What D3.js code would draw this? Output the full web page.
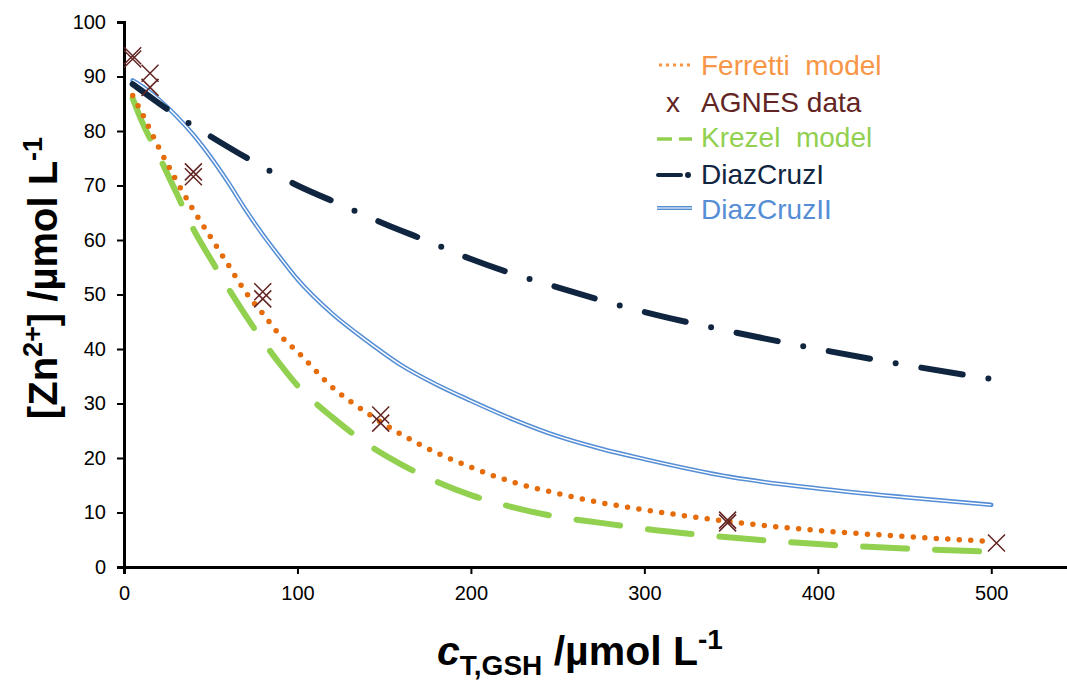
<!DOCTYPE html>
<html>
<head>
<meta charset="utf-8">
<script src="https://cdn.jsdelivr.net/npm/d3@7"></script>
<style>
  body { margin: 0; background: #fff; }
  svg { display: block; font-family: "Liberation Sans", Arial, sans-serif; }
</style>
</head>
<body>
<div id="chart"></div>
<script>
// data
var ferrettiX = [5, 10, 20, 30, 40, 50, 60, 70, 80, 90, 100, 120, 140, 160, 180, 200, 225, 250, 275, 300, 350, 400, 450, 500];
var ferrettiY = [86.5, 83.5, 77, 71, 65.5, 60.5, 55.5, 50.5, 46.5, 42.5, 39.5, 33, 28.3, 24.3, 21, 18.3, 15.5, 13.5, 11.8, 10.5, 8.3, 6.7, 5.6, 4.7];

var krezelX = [5, 10, 20, 30, 40, 50, 60, 70, 80, 90, 100, 110, 120, 140, 160, 180, 200, 225, 250, 275, 300, 350, 400, 450, 500];
var krezelY = [86, 82, 75.5, 68.8, 62, 56.5, 51.2, 46.2, 41.5, 37.2, 33.3, 30.2, 27.5, 22.6, 18.8, 15.7, 13.2, 10.9, 9.2, 8.1, 7.0, 5.4, 4.2, 3.4, 2.8];

var diazIX = [5, 25, 50, 75, 100, 125, 150, 175, 200, 250, 300, 350, 400, 450, 500];
var diazIY = [88.6, 84, 79, 74.3, 70, 66.5, 63, 59.8, 56.5, 51.3, 46.8, 43.2, 40, 37.1, 34.5];

var diazIIX = [5, 10, 20, 30, 40, 50, 60, 70, 80, 90, 100, 120, 140, 160, 180, 200, 225, 250, 275, 300, 350, 400, 450, 500];
var diazIIY = [89.3, 88.3, 85.8, 82.8, 79.3, 75.2, 70.6, 65.6, 61, 56.8, 52.8, 46.5, 41.5, 37, 33.5, 30.5, 27, 24, 21.7, 19.8, 16.5, 14.4, 12.8, 11.4];

var agnesX = [5, 5, 15, 15, 40, 40, 80, 80, 148, 148, 348, 348, 503];
var agnesY = [93.8, 93.2, 90.6, 88, 72.5, 71.6, 50.5, 49.2, 27.9, 26.4, 8.6, 8.1, 4.4];

var xTicks = [0, 100, 200, 300, 400, 500];
var yTicks = [0, 10, 20, 30, 40, 50, 60, 70, 80, 90, 100];

var W = 1067, H = 682;

var svg = d3.select('#chart').append('svg')
  .attr('width', W)
  .attr('height', H);

var x = d3.scaleLinear().domain([0, 550]).range([124, 1078]);
var y = d3.scaleLinear().domain([0, 100]).range([567, 22]);

// axes
var xAxis = svg.append('g')
  .attr('transform', 'translate(0,' + y(0) + ')')
  .call(d3.axisBottom(x).tickValues(xTicks).tickSizeOuter(0).tickSize(7).tickPadding(12));
var yAxis = svg.append('g')
  .attr('transform', 'translate(' + x(0) + ',0)')
  .call(d3.axisLeft(y).tickValues(yTicks).tickSizeOuter(0).tickSize(7).tickPadding(11));

[xAxis, yAxis].forEach(function(a){
  a.select('.domain').attr('stroke', '#000').attr('stroke-width', 3);
  a.selectAll('.tick line').attr('stroke', '#000').attr('stroke-width', 2);
  a.selectAll('.tick text')
    .attr('fill', '#000')
    .style('font-size', '20px')
    .style('font-family', '"Liberation Sans", Arial, sans-serif');
});

// line generator
function pts(xs, ys){
  return xs.map(function(d, i){ return [d, ys[i]]; });
}
var line = d3.line()
  .x(function(d){ return x(d[0]); })
  .y(function(d){ return y(d[1]); })
  .curve(d3.curveMonotoneX);

// DiazCruzII (double line)
svg.append('path')
  .attr('d', line(pts(diazIIX, diazIIY)))
  .attr('fill', 'none')
  .attr('stroke', '#558ed5')
  .attr('stroke-width', 4.5)
  .attr('stroke-linecap', 'round');
svg.append('path')
  .attr('d', line(pts(diazIIX, diazIIY)))
  .attr('fill', 'none')
  .attr('stroke', '#fff')
  .attr('stroke-width', 1.4);

// DiazCruzI (dash dot)
svg.append('path')
  .attr('d', line(pts(diazIX, diazIY)))
  .attr('fill', 'none')
  .attr('stroke', '#10253f')
  .attr('stroke-width', 6)
  .attr('stroke-linecap', 'round')
  .attr('stroke-dasharray', '42 26 0 26');

// Krezel (long dash)
svg.append('path')
  .attr('d', line(pts(krezelX, krezelY)))
  .attr('fill', 'none')
  .attr('stroke', '#92d050')
  .attr('stroke-width', 6)
  .attr('stroke-linecap', 'round')
  .attr('stroke-dasharray', '44 28');

// Ferretti (round dots)
svg.append('path')
  .attr('d', line(pts(ferrettiX, ferrettiY)))
  .attr('fill', 'none')
  .attr('stroke', '#e46c0a')
  .attr('stroke-width', 5.5)
  .attr('stroke-linecap', 'round')
  .attr('stroke-dasharray', '0 11.5');

// AGNES markers
var m = 8.5;
svg.append('g').selectAll('path')
  .data(pts(agnesX, agnesY))
  .enter()
  .append('path')
  .attr('transform', function(d){ return 'translate(' + x(d[0]) + ',' + y(d[1]) + ')'; })
  .attr('d', 'M' + (-m) + ',' + (-m) + 'L' + m + ',' + m + 'M' + (-m) + ',' + m + 'L' + m + ',' + (-m))
  .attr('fill', 'none')
  .attr('stroke', '#632523')
  .attr('stroke-width', 1.5);

// legend
var lg = svg.append('g').style('font-size', '28px');
var rows = [
  {name: 'Ferretti  model', color: '#f79646', y: 75},
  {name: 'AGNES data', color: '#632523', y: 112},
  {name: 'Krezel  model', color: '#92d050', y: 147},
  {name: 'DiazCruzI', color: '#10253f', y: 184},
  {name: 'DiazCruzII', color: '#558ed5', y: 219}
];
lg.selectAll('text.lab')
  .data(rows)
  .enter()
  .append('text')
  .attr('class', 'lab')
  .attr('x', 701)
  .attr('y', function(d){ return d.y; })
  .attr('fill', function(d){ return d.color; })
  .style('white-space', 'pre')
  .text(function(d){ return d.name; });

// legend symbols
lg.append('line').attr('x1', 659).attr('x2', 691).attr('y1', 65).attr('y2', 65)
  .attr('stroke', '#f79646').attr('stroke-width', 3).attr('stroke-dasharray', '3 4');
lg.append('text').attr('x', 673).attr('y', 112).attr('text-anchor', 'middle')
  .attr('fill', '#632523').text('x');
lg.append('line').attr('x1', 657).attr('x2', 692).attr('y1', 139).attr('y2', 139)
  .attr('stroke', '#92d050').attr('stroke-width', 3.5).attr('stroke-dasharray', '15 7');
lg.append('line').attr('x1', 658).attr('x2', 681).attr('y1', 175).attr('y2', 175)
  .attr('stroke', '#10253f').attr('stroke-width', 4).attr('stroke-linecap', 'round');
lg.append('circle').attr('cx', 688).attr('cy', 175).attr('r', 3).attr('fill', '#10253f');
lg.append('line').attr('x1', 657).attr('x2', 692).attr('y1', 208).attr('y2', 208)
  .attr('stroke', '#558ed5').attr('stroke-width', 4);
lg.append('line').attr('x1', 657).attr('x2', 692).attr('y1', 208).attr('y2', 208)
  .attr('stroke', '#fff').attr('stroke-width', 1.2);

// x axis title
var xt = svg.append('text')
  .attr('x', 580)
  .attr('y', 665)
  .attr('text-anchor', 'middle')
  .attr('fill', '#000')
  .style('font-size', '41px')
  .style('font-weight', 'bold');
xt.append('tspan').style('font-style', 'italic').text('c');
xt.append('tspan').attr('dy', 10).style('font-size', '28px').text('T,GSH');
xt.append('tspan').attr('dy', -10).text(' /µmol L');
xt.append('tspan').attr('dy', -16).style('font-size', '28px').text('-1');

// y axis title
var yt = svg.append('text')
  .attr('transform', 'translate(57,' + 278 + ') rotate(-90)')
  .attr('text-anchor', 'middle')
  .attr('fill', '#000')
  .style('font-size', '40px')
  .style('font-weight', 'bold');
yt.append('tspan').text('[Zn');
yt.append('tspan').attr('dy', -15).style('font-size', '27px').text('2+');
yt.append('tspan').attr('dy', 15).text('] /µmol L');
yt.append('tspan').attr('dy', -15).style('font-size', '27px').text('-1');
</script>
</body>
</html>
